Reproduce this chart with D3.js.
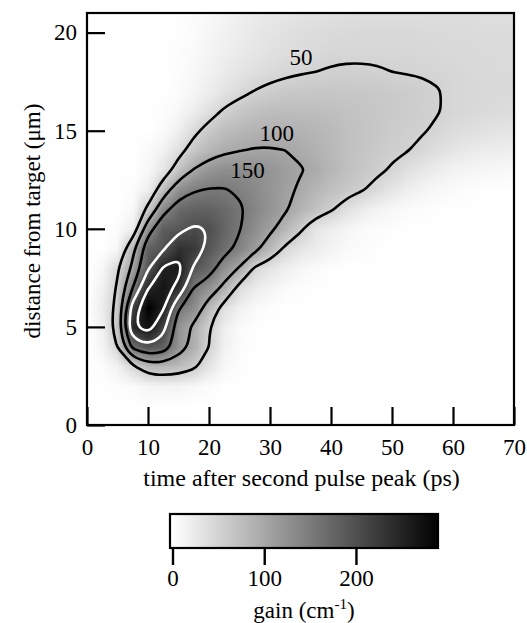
<!DOCTYPE html>
<html>
<head>
<meta charset="utf-8">
<script src="https://cdn.jsdelivr.net/npm/d3@7"></script>
<style>
  html, body { margin: 0; padding: 0; background: #fff; }
  svg { display: block; font-family: "Liberation Serif", "Times New Roman", serif; }
</style>
</head>
<body>
<svg id="chart" width="527" height="623"></svg>
<script>
// Grid of gain samples: columns are times (ps), rows are distances (µm).
const timeGrid = [0, 2.5, 5, 7.5, 10, 12.5, 15, 17.5, 20, 22.5, 25, 27.5, 30, 32.5, 35,
                  37.5, 40, 42.5, 45, 47.5, 50, 52.5, 55, 57.5, 60, 62.5, 65, 67.5, 70];
const distanceGrid = [0, 1, 2, 3, 4, 5, 6, 7, 8, 9, 10, 11, 12, 13, 14, 15, 16, 17, 18, 19, 20, 21];

// gain (cm^-1); one row per distance, one entry per time
const gainRows = [
  [0,0,0,0,0,0,0,0,0,0,0,0,0,0,0,0,0,0,0,0,0,0,0,0,0,0,0,0,0],
  [0,0,0,0,1,1,1,0,0,0,0,0,0,0,0,0,0,0,0,0,0,0,0,0,0,0,0,0,0],
  [0,0,2,5,10,12,12,8,3,0,0,0,0,0,0,0,0,0,0,0,0,0,0,0,0,0,0,0,0],
  [0,3,15,45,77,82,75,58,30,8,2,0,0,0,0,0,0,0,0,0,0,0,0,0,0,0,0,0,0],
  [0,10,52,165,195,180,120,89,50,15,3,0,0,0,0,0,0,0,0,0,0,0,0,0,0,0,0,0,0],
  [0,15,70,245,270,215,122,93,52,18,5,1,0,0,0,0,0,0,0,0,0,0,0,0,0,0,0,0,0],
  [0,20,62,220,290,256,155,130,80,36,16,6,2,0,0,0,0,0,0,0,0,0,0,0,0,0,0,0,0],
  [0,15,55,150,248,266,240,150,125,90,38,22,12,5,2,0,0,0,0,0,0,0,0,0,0,0,0,0,0],
  [0,8,45,110,195,254,262,195,170,125,97,46,30,18,9,4,1,0,0,0,0,0,0,0,0,0,0,0,0],
  [0,0,8,88,180,195,235,225,190,165,140,112,78,44,30,20,12,6,3,1,0,0,0,0,0,0,0,0,0],
  [0,0,3,20,130,185,190,205,199,175,152,128,108,82,55,28,18,11,6,3,1,0,0,0,0,0,0,0,0],
  [0,0,0,8,60,135,170,178,178,170,155,138,122,104,85,68,54,35,22,13,8,4,2,1,0,0,0,0,0],
  [0,0,0,3,18,75,128,146,152,152,145,133,120,108,95,82,72,62,53,40,28,18,11,7,4,2,1,0,0],
  [0,0,0,0,8,28,68,102,120,128,130,127,120,111,102,94,82,72,64,56,47,35,26,19,14,11,9,8,7],
  [0,0,0,0,5,15,38,65,82,93,99,102,102,100,95,88,80,72,66,60,55,51,43,35,28,24,21,19,18],
  [0,0,0,0,0,5,18,42,62,74,82,87,89,89,87,83,78,72,67,62,58,55,52,46,40,36,33,31,30],
  [0,0,0,0,0,2,8,20,36,54,64,70,74,75,75,74,72,69,66,63,60,58,55,51,46,43,41,40,39],
  [0,0,0,0,0,0,3,10,20,31,42,51,57,61,63,64,64,63,62,61,59,57,55,51,46,44,43,42,41],
  [0,0,0,0,0,0,3,8,15,23,30,36,41,45,48,50,52,53,53,52,50,49,48,47,45,43,42,41,41],
  [0,0,0,0,0,0,2,6,12,18,24,29,34,37,40,43,45,46,46,46,46,45,44,43,42,42,41,41,40],
  [0,0,0,0,0,0,1,4,9,15,21,26,30,34,37,39,41,42,43,43,43,43,42,42,41,41,40,40,40],
  [0,0,0,0,0,0,0,3,7,12,17,22,26,29,31,33,35,36,37,37,38,38,38,38,38,38,38,38,38]
];

const contourLevels = [50, 100, 150, 200, 250];
const labelledLevels = [50, 100, 150];
const timeTicks = [0, 10, 20, 30, 40, 50, 60, 70];
const distanceTicks = [0, 5, 10, 15, 20];
const gainTicks = [0, 100, 200];
const gainRange = [0, 290];

// ---- layout ----
const plot = { left: 87, right: 514, top: 13, bottom: 425 };
const svg = d3.select("#chart");
const serif = "Liberation Serif, Times New Roman, serif";

const x = d3.scaleLinear().domain([0, 70]).range([plot.left, plot.right]);
const y = d3.scaleLinear().domain([0, 21]).range([plot.bottom, plot.top]);
const shade = d3.scaleLinear().domain(gainRange).range(["#ffffff", "#000000"]).clamp(true);

const nx = timeGrid.length, ny = distanceGrid.length;
const colToTime = d3.scaleLinear().domain([0, nx - 1]).range([timeGrid[0], timeGrid[nx - 1]]);
const rowToDist = d3.scaleLinear().domain([0, ny - 1]).range([distanceGrid[0], distanceGrid[ny - 1]]);

// clip region for the field
const defs = svg.append("defs");
defs.append("clipPath").attr("id", "plotClip")
  .append("rect")
  .attr("x", plot.left).attr("y", plot.top)
  .attr("width", plot.right - plot.left).attr("height", plot.bottom - plot.top);

// ---- gain field rendered as a smoothly scaled raster ----
const cnv = document.createElement("canvas");
cnv.width = nx; cnv.height = ny;
const ctx = cnv.getContext("2d");
const img = ctx.createImageData(nx, ny);
gainRows.forEach((row, j) => {
  const r = ny - 1 - j; // top row of the image = largest distance
  row.forEach((v, i) => {
    const c = d3.rgb(shade(v));
    const k = 4 * (r * nx + i);
    img.data[k] = c.r; img.data[k + 1] = c.g; img.data[k + 2] = c.b; img.data[k + 3] = 255;
  });
});
ctx.putImageData(img, 0, 0);

const x0 = x(colToTime(-0.5)), x1 = x(colToTime(nx - 0.5));
const yTop = y(rowToDist(ny - 0.5)), yBot = y(rowToDist(-0.5));
svg.append("g").attr("clip-path", "url(#plotClip)")
  .append("image")
  .attr("href", cnv.toDataURL())
  .attr("x", x0).attr("y", yTop)
  .attr("width", x1 - x0).attr("height", yBot - yTop)
  .attr("preserveAspectRatio", "none")
  .style("image-rendering", "auto");

// ---- contour lines ----
const flat = gainRows.flat();
const contours = d3.contours().size([nx, ny]).thresholds(contourLevels)(flat);
const ringLine = d3.line().curve(d3.curveBasisClosed);

const cg = svg.append("g").attr("clip-path", "url(#plotClip)");
contours.forEach(c => {
  const d = c.coordinates.map(poly => poly.map(ring => {
    const pts = ring.slice(0, -1).map(([gx, gy]) => [x(colToTime(gx - 0.5)), y(rowToDist(gy - 0.5))]);
    return ringLine(pts);
  }).join("")).join("");
  cg.append("path")
    .attr("d", d)
    .attr("fill", "none")
    .attr("stroke", c.value >= 200 ? "#ffffff" : "#000000")
    .attr("stroke-width", 2.6)
    .attr("stroke-linejoin", "round");
});

// contour level labels
const labelAnchors = { 50: [35.1, 18.35], 100: [31.1, 14.5], 150: [26.3, 12.6] };
svg.append("g").selectAll("text")
  .data(labelledLevels)
  .join("text")
  .attr("x", d => x(labelAnchors[d][0]))
  .attr("y", d => y(labelAnchors[d][1]))
  .attr("text-anchor", "middle")
  .attr("font-size", 23)
  .attr("fill", "#000")
  .text(d => d);

// ---- axes (ticks point inward) ----
const xAxis = svg.append("g")
  .attr("transform", `translate(0,${plot.bottom})`)
  .call(d3.axisBottom(x).tickValues(timeTicks).tickSize(-18).tickPadding(14).tickFormat(d3.format("d")));
const yAxis = svg.append("g")
  .attr("transform", `translate(${plot.left},0)`)
  .call(d3.axisLeft(y).tickValues(distanceTicks).tickSize(-18).tickPadding(10).tickFormat(d3.format("d")));

[xAxis, yAxis].forEach(a => {
  a.attr("font-family", serif);
  a.select(".domain").remove();
  a.selectAll(".tick line").attr("stroke", "#000").attr("stroke-width", 2.2);
  a.selectAll(".tick text").attr("font-size", 23).attr("fill", "#000");
});

// frame
svg.append("rect")
  .attr("x", plot.left).attr("y", plot.top)
  .attr("width", plot.right - plot.left).attr("height", plot.bottom - plot.top)
  .attr("fill", "none").attr("stroke", "#000").attr("stroke-width", 2.2);

// axis titles
svg.append("text")
  .attr("x", (plot.left + plot.right) / 2 + 1).attr("y", 486)
  .attr("text-anchor", "middle").attr("font-size", 24)
  .text("time after second pulse peak (ps)");

svg.append("text")
  .attr("transform", `translate(40,${(plot.top + plot.bottom) / 2 + 2}) rotate(-90)`)
  .attr("text-anchor", "middle").attr("font-size", 23)
  .text("distance from target (\u03bcm)");

// ---- colour bar ----
const cb = { left: 170, right: 438, top: 514, bottom: 548 };
const cbX = d3.scaleLinear().domain(gainRange).range([172.5, 438.5]);

const grad = defs.append("linearGradient")
  .attr("id", "gainGrad").attr("gradientUnits", "userSpaceOnUse")
  .attr("x1", cbX(gainRange[0])).attr("x2", cbX(gainRange[1])).attr("y1", 0).attr("y2", 0);
d3.range(0, 11).forEach(k => {
  const v = gainRange[0] + (gainRange[1] - gainRange[0]) * k / 10;
  grad.append("stop").attr("offset", `${k * 10}%`).attr("stop-color", shade(v));
});

svg.append("rect")
  .attr("x", cb.left).attr("y", cb.top)
  .attr("width", cb.right - cb.left).attr("height", cb.bottom - cb.top)
  .attr("fill", "url(#gainGrad)").attr("stroke", "#000").attr("stroke-width", 2.2);

const cbAxis = svg.append("g")
  .attr("transform", `translate(0,${cb.bottom})`)
  .call(d3.axisBottom(cbX).tickValues(gainTicks).tickSize(17).tickPadding(5).tickFormat(d3.format("d")));
cbAxis.attr("font-family", serif);
cbAxis.select(".domain").remove();
cbAxis.selectAll(".tick line").attr("stroke", "#000").attr("stroke-width", 2.4);
cbAxis.selectAll(".tick text").attr("font-size", 23).attr("fill", "#000");

const cbTitle = svg.append("text")
  .attr("x", 304).attr("y", 618)
  .attr("text-anchor", "middle").attr("font-size", 23);
cbTitle.append("tspan").text("gain (cm");
cbTitle.append("tspan").attr("font-size", 15).attr("dy", -9).text("-1");
cbTitle.append("tspan").attr("dy", 9).text(")");
</script>
</body>
</html>
